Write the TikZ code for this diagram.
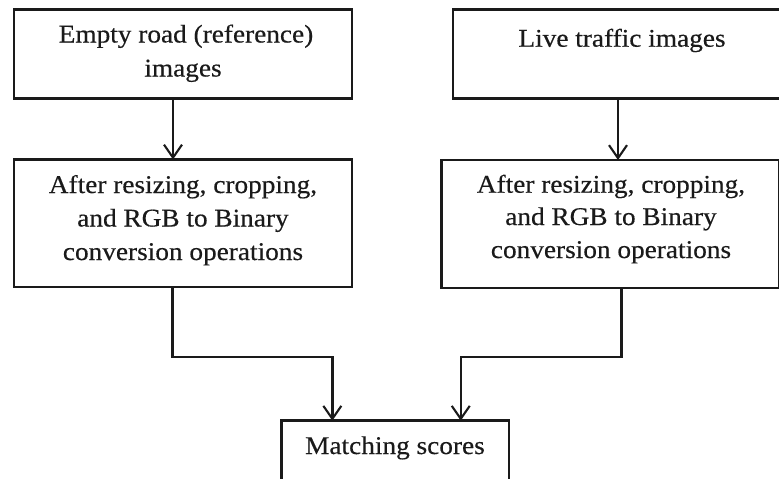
\documentclass[tikz,border=0pt]{standalone}
\usepackage{fontspec}
\setmainfont[FakeStretch=1.07,FakeBold=0.4]{Liberation Serif}
\usetikzlibrary{arrows.meta}
\definecolor{ink}{HTML}{1A1A1A}
\begin{document}
\begin{tikzpicture}[x=1pt,y=-1pt,
  box/.style={draw=ink, line width=2.6pt, rectangle, inner sep=0pt, outer sep=0pt, anchor=north west},
  lbl/.style={inner sep=0pt, anchor=base, text=ink, font=\fontsize{25.5}{33}\selectfont},
  arr/.style={draw=ink, line width=2.5pt, -{Straight Barb[length=13pt,width=18pt,line width=2.1pt]}}]
\useasboundingbox (0,0) rectangle (779,479);
\clip (0,0) rectangle (779,479);
\fill[white] (0,0) rectangle (779,479);

% boxes
\node[box, minimum width=338pt, minimum height=89pt]    (b1) at (14,9.5) {};
\node[box, minimum width=338pt, minimum height=89pt]    (b2) at (453,9.5) {};
\node[box, minimum width=338pt, minimum height=127.5pt] (b3) at (14,159.5) {};
\node[box, minimum width=338pt, minimum height=128pt]   (b4) at (441.7,160) {};
\node[box, minimum width=227.3pt, minimum height=62pt]  (b5) at (281.7,420.7) {};

% texts
\node[lbl] (t1a) at (186,42.5) {Empty road (reference)};
\node[lbl] (t1b) at (183,76.5) {images};
\node[lbl] (t2)  at (622,46.7) {Live traffic images};
\node[lbl] (t3a) at (183,193)   {After resizing, cropping,};
\node[lbl] (t3b) at (183,226.5) {and RGB to Binary};
\node[lbl] (t3c) at (183,260)   {conversion operations};
\node[lbl] (t4a) at (611,192.7) {After resizing, cropping,};
\node[lbl] (t4b) at (611,225)   {and RGB to Binary};
\node[lbl] (t4c) at (611,258)   {conversion operations};
\node[lbl] (t5)  at (395,454)   {Matching scores};

% connectors
\coordinate (jn) at (0,357);
\draw[arr] ([xshift=-10pt]b1.south) -- ([xshift=-10pt]b1.south |- b3.north);
\draw[arr] ([xshift=-4pt]b2.south) -- ([xshift=-4pt]b2.south |- b4.north);
\draw[arr] ([xshift=-10.3pt]b3.south) |- ([xshift=-63pt]b5.north |- jn) -- ([xshift=-63pt]b5.north);
\draw[arr] ([xshift=11pt]b4.south) |- ([xshift=65.4pt]b5.north |- jn) -- ([xshift=65.4pt]b5.north);
\end{tikzpicture}
\end{document}
